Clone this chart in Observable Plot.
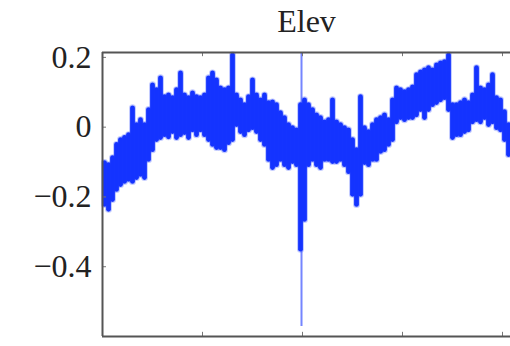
<!DOCTYPE html>
<html><head><meta charset="utf-8">
<script src="https://cdn.jsdelivr.net/npm/d3@7"></script>
<script src="https://cdn.jsdelivr.net/npm/@observablehq/plot@0.6"></script>
<style>html,body{margin:0;padding:0;background:#fff;overflow:hidden}</style>
</head><body><div id="chart"></div>
<script>
const title = "Elev";
const t = [
0.02,0.06,0.10,0.14,0.18,0.22,0.26,0.30,0.34,0.38,
0.42,0.46,0.50,0.54,0.58,0.62,0.66,0.70,0.74,0.78,
0.82,0.86,0.90,0.94,0.98,1.02,1.06,1.10,1.14,1.18,
1.22,1.26,1.30,1.34,1.38,1.42,1.46,1.50,1.54,1.58,
1.62,1.66,1.70,1.74,1.78,1.82,1.86,1.90,1.94,1.98,
2.02,2.06,2.10,2.14,2.18,2.22,2.26,2.30,2.34,2.38,
2.42,2.46,2.50,2.54,2.58,2.62,2.66,2.70,2.74,2.78,
2.82,2.86,2.90,2.94,2.98,3.02,3.06,3.10,3.14,3.18,
3.22,3.26,3.30,3.34,3.38,3.42,3.46,3.50,3.54,3.58,
3.62,3.66,3.70,3.74,3.78,3.82,3.86,3.90,3.94,3.98,
4.02,4.06];
const hi = [
-0.103,-0.109,-0.089,-0.051,-0.037,-0.031,-0.023,0.054,0.006,0.02,
0.006,0.049,0.12,0.106,0.14,0.086,0.091,0.083,0.106,0.154,
0.091,0.083,0.097,0.086,0.083,0.091,0.14,0.154,0.134,0.111,
0.106,0.111,0.206,0.091,0.077,0.063,0.086,0.134,0.091,0.077,
0.091,0.069,0.071,0.063,0.04,0.026,0.006,-0.003,-0.009,0.063,
0.077,0.063,0.049,0.034,0.026,0.014,0.02,0.077,0.014,0.006,
-0.003,-0.009,-0.037,-0.066,0.086,-0.003,-0.014,0.006,0.02,0.026,
0.034,0.02,0.077,0.111,0.106,0.1,0.106,0.114,0.149,0.157,
0.163,0.169,0.163,0.177,0.183,0.186,0.206,0.063,0.063,0.069,
0.077,0.069,0.091,0.169,0.111,0.106,0.12,0.149,0.083,0.077,
0.043,0.006];
const lo = [
-0.223,-0.237,-0.209,-0.18,-0.166,-0.157,-0.151,-0.157,-0.146,-0.137,
-0.146,-0.094,-0.066,-0.037,-0.031,-0.023,-0.029,-0.014,-0.031,-0.023,
-0.017,-0.031,-0.009,-0.023,-0.009,-0.023,-0.037,-0.051,-0.06,-0.06,
-0.066,-0.046,-0.037,0.006,-0.014,-0.023,-0.009,-0.003,-0.014,-0.037,
-0.051,-0.094,-0.117,-0.109,-0.094,-0.109,-0.117,-0.1,-0.109,-0.351,
-0.266,-0.109,-0.094,-0.109,-0.117,-0.094,-0.094,-0.1,-0.1,-0.094,
-0.109,-0.129,-0.194,-0.223,-0.194,-0.103,-0.109,-0.094,-0.094,-0.071,
-0.066,-0.051,-0.037,0.014,0.026,0.02,0.026,0.026,0.034,0.049,
0.026,0.049,0.063,0.069,0.077,0.083,0.049,-0.031,-0.023,-0.023,
-0.014,-0.009,0.014,0.02,0.014,0.026,0.006,0.014,-0.003,-0.009,
-0.037,-0.08];
const spikeT = [1.99];
const spikeLo = [-0.571];
const spikeHi = [0.211];
const yTicks = [0.2, 0, -0.2, -0.4];
const xTicks = [1, 2, 3, 4];
const yMin = -0.6, yMax = 0.214, xMin = 0, xMax = 4.08;

const cols = t.map((d, i) => ({t: d, lo: lo[i], hi: hi[i]}));
const spikes = spikeT.map((d, i) => ({t: d, lo: spikeLo[i], hi: spikeHi[i]}));
const fmt = d => d === 0 ? "0" : d3.format(".1f")(d);
const font = "'Liberation Serif', 'Times New Roman', serif";

const plot = Plot.plot({
  width: 510, height: 346,
  marginTop: 52, marginBottom: 10, marginLeft: 102, marginRight: 0,
  style: {fontFamily: font, background: "#fff", overflow: "visible"},
  x: {domain: [xMin, xMax], axis: null},
  y: {domain: [yMin, yMax], axis: null},
  marks: [
    Plot.ruleX(spikes, {x: "t", y1: "lo", y2: "hi", stroke: "#7585ff", strokeWidth: 2}),
    Plot.ruleX(cols, {x: "t", y1: "lo", y2: "hi", stroke: "#3a55ff", strokeWidth: 7, strokeOpacity: 0.3, strokeLinecap: "round", shapeRendering: "geometricPrecision"}),
    Plot.ruleX(cols, {x: "t", y1: "lo", y2: "hi", stroke: "#1433ff", strokeWidth: 4.8, strokeLinecap: "round", shapeRendering: "geometricPrecision"}),
    Plot.axisY({ticks: yTicks, tickSize: 0, tickPadding: 11, fontSize: 32, tickFormat: fmt, fill: "#222"}),
    Plot.ruleY(yTicks, {x1: xMin, x2: xMin + 0.04, stroke: "#777"}),
    Plot.ruleX(xTicks, {y1: yMin, y2: yMin + 0.012, stroke: "#777"}),
    Plot.ruleX(xTicks, {y1: yMax, y2: yMax - 0.012, stroke: "#777"}),
    Plot.ruleX([xMin], {stroke: "#555", strokeWidth: 2}),
    Plot.ruleY([yMin, yMax], {stroke: "#555", strokeWidth: 2}),
    Plot.text([title], {frameAnchor: "top", dy: -31, lineAnchor: "middle", fontSize: 32, fill: "#222"})
  ]
});
document.getElementById("chart").appendChild(plot);
</script>
</body></html>
